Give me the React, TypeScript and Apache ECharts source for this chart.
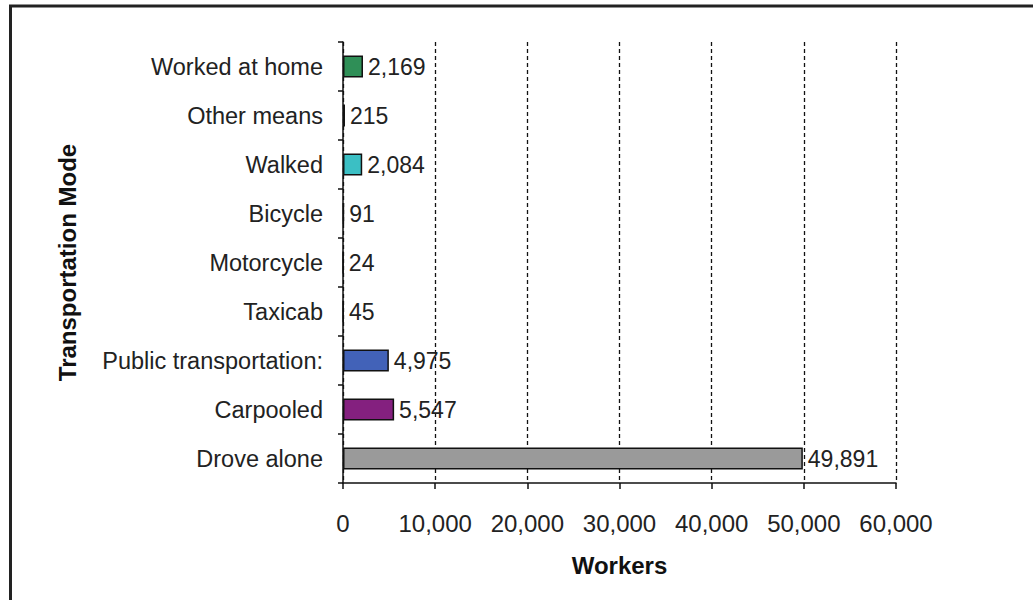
import React, { useEffect, useRef } from "react";
import * as echarts from "echarts";

const categories = [
  "Drove alone",
  "Carpooled",
  "Public transportation:",
  "Taxicab",
  "Motorcycle",
  "Bicycle",
  "Walked",
  "Other means",
  "Worked at home",
];
const workers = [49891, 5547, 4975, 45, 24, 91, 2084, 215, 2169];
const barColors = [
  "#9a9a9a",
  "#84207f",
  "#4262b8",
  "#9a9a9a",
  "#9a9a9a",
  "#9a9a9a",
  "#3bbfc4",
  "#9a9a9a",
  "#2f8f57",
];
const xTicks = [0, 10000, 20000, 30000, 40000, 50000, 60000];

const fmt = (v: number) => v.toLocaleString("en-US");
const FONT = "'Liberation Sans', Arial, sans-serif";

export default function App() {
  const ref = useRef<HTMLDivElement>(null);
  useEffect(() => {
    document.body.style.margin = "0";
    const chart = echarts.init(ref.current!, null, { renderer: "svg" });
    chart.setOption({
      animation: false,
      backgroundColor: "#ffffff",
      grid: { left: 343, right: 137, top: 42, bottom: 117 },
      xAxis: {
        type: "value",
        min: xTicks[0],
        max: xTicks[xTicks.length - 1],
        interval: 10000,
        name: "Workers",
        nameLocation: "middle",
        nameGap: 70,
        nameTextStyle: { fontFamily: FONT, fontSize: 24, fontWeight: "bold", color: "#111" },
        axisLine: { show: true, lineStyle: { color: "#111", width: 1.5 } },
        axisTick: { show: true, length: 6, lineStyle: { color: "#111", width: 1.5 } },
        axisLabel: { fontFamily: FONT, fontSize: 24, color: "#222", margin: 28, formatter: (v: number) => fmt(v) },
        splitLine: { show: true, lineStyle: { color: "#111", type: [4, 3], width: 1.3 } },
      },
      yAxis: {
        type: "category",
        data: categories,
        name: "Transportation Mode",
        nameLocation: "middle",
        nameGap: 264,
        nameRotate: 90,
        nameTextStyle: { fontFamily: FONT, fontSize: 24, fontWeight: "bold", color: "#111" },
        axisLine: { show: true, lineStyle: { color: "#111", width: 1.5 } },
        axisTick: { show: true, length: 5, lineStyle: { color: "#111", width: 1.5 } },
        axisLabel: { fontFamily: FONT, fontSize: 23.5, color: "#222", margin: 20 },
        splitLine: { show: false },
      },
      series: [
        {
          type: "bar",
          barWidth: 22,
          data: workers.map((v, i) => ({
            value: v,
            itemStyle: { color: barColors[i], borderColor: "#111", borderWidth: 1.5 },
          })),
          label: {
            show: true,
            position: "right",
            distance: 5,
            fontFamily: FONT,
            fontSize: 23,
            color: "#222",
            formatter: (p: any) => fmt(p.value),
          },
        },
      ],
      graphic: [
        {
          type: "rect",
          shape: { x: 10.5, y: 6, width: 1100, height: 700 },
          style: { fill: "none", stroke: "#222", lineWidth: 3 },
          silent: true,
        },
      ],
    });
    return () => chart.dispose();
  }, []);
  return <div ref={ref} style={{ width: 1033, height: 600 }} />;
}
